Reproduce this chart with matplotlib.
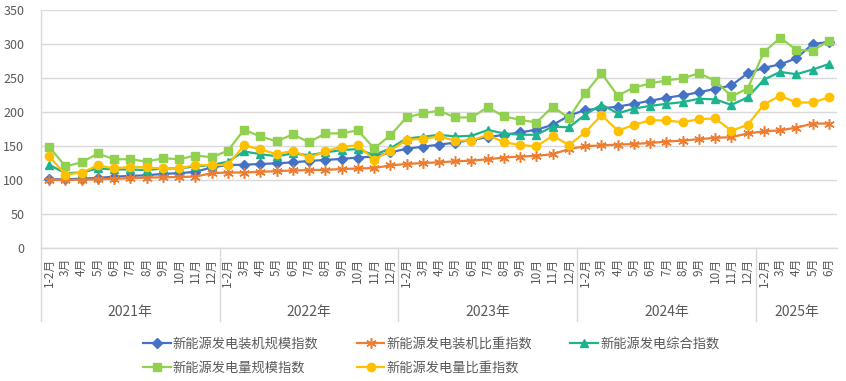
import matplotlib
matplotlib.use("Agg")
import matplotlib.pyplot as plt
from matplotlib.transforms import blended_transform_factory

plt.rcParams['font.family'] = ['Noto Sans CJK SC', 'DejaVu Sans']

years = ["2021年", "2022年", "2023年", "2024年", "2025年"]
months_full = ["1-2月", "3月", "4月", "5月", "6月", "7月", "8月", "9月", "10月", "11月", "12月"]
months_2025 = ["1-2月", "3月", "4月", "5月", "6月"]
month_labels = months_full * 4 + months_2025
year_sizes = [11, 11, 11, 11, 5]

installed_scale = [101, 101, 102, 103, 105, 106, 107, 109, 110, 112, 118.5,
                   122, 122.5, 123.5, 124.5, 126, 128, 129.5, 131, 133, 134.5, 140.5,
                   146, 149, 152, 155, 159, 163, 166.5, 170, 174, 181, 194.5,
                   203, 205, 208, 212, 216.5, 221, 224.5, 229, 234, 239, 257,
                   265, 270, 279, 300, 303]
installed_share = [100, 100, 100.5, 101, 102, 102.5, 103.5, 104, 104.5, 105, 110,
                   111, 111, 112, 113, 114, 114.5, 115, 116, 117, 117.5, 121.5,
                   123.5, 125, 126, 127.5, 128.5, 130.5, 133, 134.5, 135.5, 138, 145.5,
                   149.5, 151, 152, 153, 154.5, 156.5, 158, 160, 162, 163, 168.5,
                   171.5, 173, 177, 183, 183]
composite = [122.5, 110, 111, 117, 115.5, 115.5, 114.5, 117, 117, 120, 122,
             127, 142, 138, 135, 139, 136.5, 140.5, 144, 145.5, 136.5, 146.5,
             161, 163.5, 166.5, 164, 165, 173.5, 168.5, 166.5, 166.5, 178.5, 177.5,
             196, 211, 198, 205, 209, 212, 214.5, 219.5, 218.5, 210.5, 221.5,
             247.5, 259, 255.5, 262.5, 270.5]
gen_scale = [149, 120, 126, 139, 130.5, 130.5, 127, 132, 130.5, 136, 133.5,
             143, 174, 164, 157, 167, 155.5, 168.5, 168.5, 173, 146.5, 165.5,
             192, 198, 202, 192, 192, 207, 193.5, 188.5, 184.5, 208, 191,
             227.5, 257, 224, 236, 242, 246.5, 249.5, 257, 246, 223, 234.5,
             288, 309, 291.5, 290, 305]
gen_share = [135, 108, 111, 121.5, 117, 119.5, 118.5, 117, 117, 122, 122,
             122, 151, 145, 138, 143, 133, 142, 149, 151, 130, 143,
             159, 160.5, 164, 158, 158, 166.5, 155.5, 151.5, 149.5, 165, 151.5,
             170, 195.5, 172.5, 181, 188, 187.5, 185, 189.5, 190.5, 172.5, 181,
             211, 224, 214, 214, 221.5]

series_names = ["新能源发电装机规模指数", "新能源发电装机比重指数", "新能源发电综合指数",
                "新能源发电量规模指数", "新能源发电量比重指数"]

W, H = 846, 381
fig = plt.figure(figsize=(W / 100, H / 100), dpi=100)
ax = fig.add_axes([41 / W, 1 - 248 / H, (837 - 41) / W, 238 / H])

x = list(range(len(month_labels)))
txt = "#595959"
grid = "#d9d9d9"

h1, = ax.plot(x, installed_scale, color="#4472C4", lw=1.6, marker="D", ms=5, label=series_names[0])
h2, = ax.plot(x, installed_share, color="#ED7D31", lw=1.6, marker=(6, 2, 0), ms=7.5, mew=1.1,
              mec="#ED7D31", label=series_names[1])
h3, = ax.plot(x, composite, color="#1DB38E", lw=1.6, marker="^", ms=5.5, label=series_names[2])
h4, = ax.plot(x, gen_scale, color="#92D050", lw=1.6, marker="s", ms=5.5, label=series_names[3])
h5, = ax.plot(x, gen_share, color="#FFC000", lw=1.6, marker="o", ms=6, label=series_names[4])

ax.set_xlim(-0.5, len(x) - 0.5)
ax.set_ylim(0, 350)
ax.set_yticks(range(0, 351, 50))
ax.yaxis.grid(True, color=grid, lw=1)
ax.set_axisbelow(True)
ax.tick_params(axis="y", length=0, pad=12, labelsize=9, labelcolor=txt)
ax.set_xticks(x)
ax.set_xticklabels(month_labels, rotation=90, fontsize=8.5, color=txt)
ax.tick_params(axis="x", length=0, pad=7)

for s in ["top", "right"]:
    ax.spines[s].set_visible(False)
for s in ["left", "bottom"]:
    ax.spines[s].set_color(grid)
    ax.spines[s].set_linewidth(1)

tr = blended_transform_factory(ax.transData, ax.transAxes)
start = 0
bounds = [-0.5]
for yr, n in zip(years, year_sizes):
    center = start + (n - 1) / 2
    ax.text(center, -0.27, yr, transform=tr, ha="center", va="center",
            fontsize=10, color=txt)
    start += n
    bounds.append(start - 0.5)
for b in bounds[:-1]:
    ax.plot([b, b], [0, -0.307], transform=tr, color=grid, lw=1, clip_on=False)

handles = [h1, h4, h2, h5, h3]
leg = fig.legend(handles, [h.get_label() for h in handles], ncol=3,
                 loc="upper left", bbox_to_anchor=(143 / W, 1 - 338 / H),
                 frameon=False, fontsize=9.5, handlelength=2.1, handletextpad=0.15,
                 columnspacing=2.9, labelspacing=0.8, borderpad=0, borderaxespad=0)
for t in leg.get_texts():
    t.set_color(txt)

fig.savefig("out.png", dpi=100)
